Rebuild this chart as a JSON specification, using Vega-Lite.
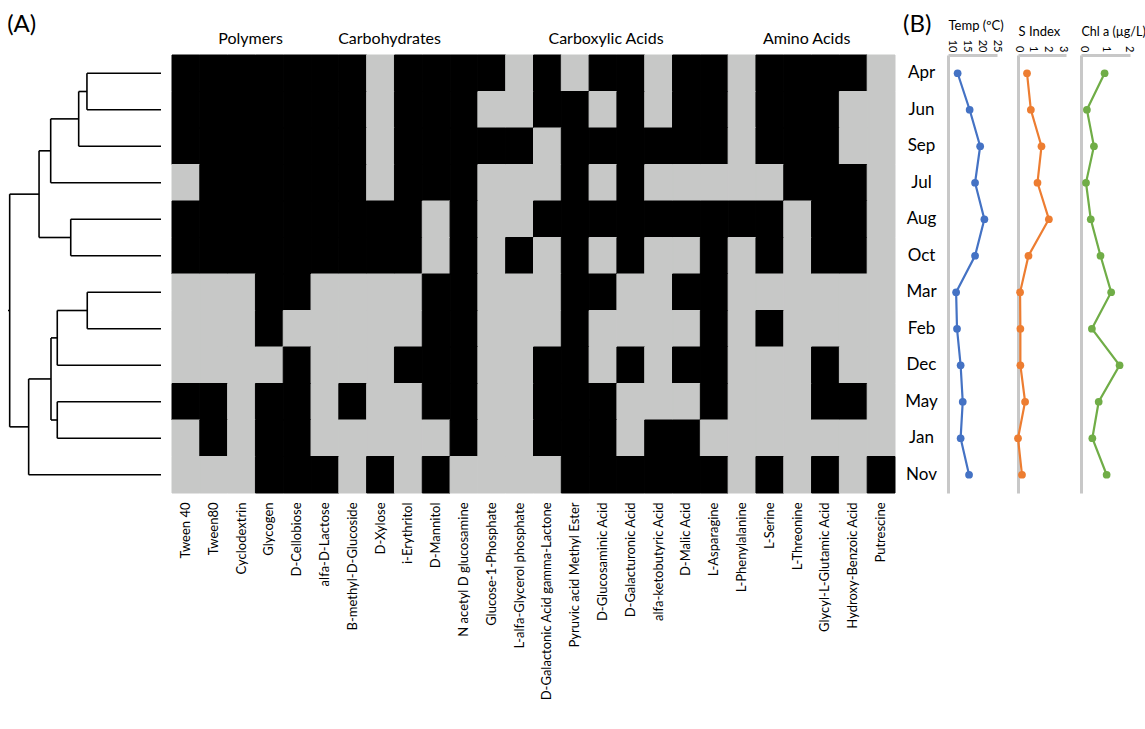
{
"$schema": "https://vega.github.io/schema/vega-lite/v6.json",
"padding": {"left": 7, "top": 13, "right": 0, "bottom": 0},
"config": {"font": "Lato", "view": {"stroke": null}, "axis": {"labelFont": "Lato", "titleFont": "Lato", "labelColor": "#000", "titleColor": "#000"}, "title": {"font": "Lato", "color": "#000"}},
"datasets": {
"env": [
{"month":"Apr","temp":12.2,"s":0.61,"chl":0.95},
{"month":"Jun","temp":16.2,"s":0.87,"chl":0.17},
{"month":"Sep","temp":19.7,"s":1.59,"chl":0.48},
{"month":"Jul","temp":18.0,"s":1.32,"chl":0.13},
{"month":"Aug","temp":21.1,"s":2.09,"chl":0.34},
{"month":"Oct","temp":18.0,"s":0.71,"chl":0.77},
{"month":"Mar","temp":11.7,"s":0.14,"chl":1.24},
{"month":"Feb","temp":12.0,"s":0.16,"chl":0.39},
{"month":"Dec","temp":13.2,"s":0.16,"chl":1.61},
{"month":"May","temp":13.9,"s":0.48,"chl":0.69},
{"month":"Jan","temp":13.2,"s":0.0,"chl":0.41},
{"month":"Nov","temp":16.0,"s":0.27,"chl":1.04}
],
"heat": [
{"month":"Apr","Tween 40":1,"Tween80":1,"Cyclodextrin":1,"Glycogen":1,"D-Cellobiose":1,"alfa-D-Lactose":1,"B-methyl-D-Glucoside":1,"D-Xylose":0,"i-Erythritol":1,"D-Mannitol":1,"N acetyl D glucosamine":1,"Glucose-1-Phosphate":1,"L-alfa-Glycerol phosphate":0,"D-Galactonic Acid gamma-Lactone":1,"Pyruvic acid Methyl Ester":0,"D-Glucosaminic Acid":1,"D-Galacturonic Acid":1,"alfa-ketobutyric Acid":0,"D-Malic Acid":1,"L-Asparagine":1,"L-Phenylalanine":0,"L-Serine":1,"L-Threonine":1,"Glycyl-L-Glutamic Acid":1,"Hydroxy-Benzoic Acid":1,"Putrescine":0},
{"month":"Jun","Tween 40":1,"Tween80":1,"Cyclodextrin":1,"Glycogen":1,"D-Cellobiose":1,"alfa-D-Lactose":1,"B-methyl-D-Glucoside":1,"D-Xylose":0,"i-Erythritol":1,"D-Mannitol":1,"N acetyl D glucosamine":1,"Glucose-1-Phosphate":0,"L-alfa-Glycerol phosphate":0,"D-Galactonic Acid gamma-Lactone":1,"Pyruvic acid Methyl Ester":1,"D-Glucosaminic Acid":0,"D-Galacturonic Acid":1,"alfa-ketobutyric Acid":0,"D-Malic Acid":1,"L-Asparagine":1,"L-Phenylalanine":0,"L-Serine":1,"L-Threonine":1,"Glycyl-L-Glutamic Acid":1,"Hydroxy-Benzoic Acid":0,"Putrescine":0},
{"month":"Sep","Tween 40":1,"Tween80":1,"Cyclodextrin":1,"Glycogen":1,"D-Cellobiose":1,"alfa-D-Lactose":1,"B-methyl-D-Glucoside":1,"D-Xylose":0,"i-Erythritol":1,"D-Mannitol":1,"N acetyl D glucosamine":1,"Glucose-1-Phosphate":1,"L-alfa-Glycerol phosphate":1,"D-Galactonic Acid gamma-Lactone":0,"Pyruvic acid Methyl Ester":1,"D-Glucosaminic Acid":1,"D-Galacturonic Acid":1,"alfa-ketobutyric Acid":1,"D-Malic Acid":1,"L-Asparagine":1,"L-Phenylalanine":0,"L-Serine":1,"L-Threonine":1,"Glycyl-L-Glutamic Acid":1,"Hydroxy-Benzoic Acid":0,"Putrescine":0},
{"month":"Jul","Tween 40":0,"Tween80":1,"Cyclodextrin":1,"Glycogen":1,"D-Cellobiose":1,"alfa-D-Lactose":1,"B-methyl-D-Glucoside":1,"D-Xylose":0,"i-Erythritol":1,"D-Mannitol":1,"N acetyl D glucosamine":1,"Glucose-1-Phosphate":0,"L-alfa-Glycerol phosphate":0,"D-Galactonic Acid gamma-Lactone":0,"Pyruvic acid Methyl Ester":1,"D-Glucosaminic Acid":0,"D-Galacturonic Acid":1,"alfa-ketobutyric Acid":0,"D-Malic Acid":0,"L-Asparagine":0,"L-Phenylalanine":0,"L-Serine":0,"L-Threonine":1,"Glycyl-L-Glutamic Acid":1,"Hydroxy-Benzoic Acid":1,"Putrescine":0},
{"month":"Aug","Tween 40":1,"Tween80":1,"Cyclodextrin":1,"Glycogen":1,"D-Cellobiose":1,"alfa-D-Lactose":1,"B-methyl-D-Glucoside":1,"D-Xylose":1,"i-Erythritol":1,"D-Mannitol":0,"N acetyl D glucosamine":1,"Glucose-1-Phosphate":0,"L-alfa-Glycerol phosphate":0,"D-Galactonic Acid gamma-Lactone":1,"Pyruvic acid Methyl Ester":1,"D-Glucosaminic Acid":1,"D-Galacturonic Acid":1,"alfa-ketobutyric Acid":1,"D-Malic Acid":1,"L-Asparagine":1,"L-Phenylalanine":1,"L-Serine":1,"L-Threonine":0,"Glycyl-L-Glutamic Acid":1,"Hydroxy-Benzoic Acid":1,"Putrescine":0},
{"month":"Oct","Tween 40":1,"Tween80":1,"Cyclodextrin":1,"Glycogen":1,"D-Cellobiose":1,"alfa-D-Lactose":1,"B-methyl-D-Glucoside":1,"D-Xylose":1,"i-Erythritol":1,"D-Mannitol":0,"N acetyl D glucosamine":1,"Glucose-1-Phosphate":0,"L-alfa-Glycerol phosphate":1,"D-Galactonic Acid gamma-Lactone":0,"Pyruvic acid Methyl Ester":1,"D-Glucosaminic Acid":0,"D-Galacturonic Acid":1,"alfa-ketobutyric Acid":0,"D-Malic Acid":0,"L-Asparagine":1,"L-Phenylalanine":0,"L-Serine":1,"L-Threonine":0,"Glycyl-L-Glutamic Acid":1,"Hydroxy-Benzoic Acid":1,"Putrescine":0},
{"month":"Mar","Tween 40":0,"Tween80":0,"Cyclodextrin":0,"Glycogen":1,"D-Cellobiose":1,"alfa-D-Lactose":0,"B-methyl-D-Glucoside":0,"D-Xylose":0,"i-Erythritol":0,"D-Mannitol":1,"N acetyl D glucosamine":1,"Glucose-1-Phosphate":0,"L-alfa-Glycerol phosphate":0,"D-Galactonic Acid gamma-Lactone":0,"Pyruvic acid Methyl Ester":1,"D-Glucosaminic Acid":1,"D-Galacturonic Acid":0,"alfa-ketobutyric Acid":0,"D-Malic Acid":1,"L-Asparagine":1,"L-Phenylalanine":0,"L-Serine":0,"L-Threonine":0,"Glycyl-L-Glutamic Acid":0,"Hydroxy-Benzoic Acid":0,"Putrescine":0},
{"month":"Feb","Tween 40":0,"Tween80":0,"Cyclodextrin":0,"Glycogen":1,"D-Cellobiose":0,"alfa-D-Lactose":0,"B-methyl-D-Glucoside":0,"D-Xylose":0,"i-Erythritol":0,"D-Mannitol":1,"N acetyl D glucosamine":1,"Glucose-1-Phosphate":0,"L-alfa-Glycerol phosphate":0,"D-Galactonic Acid gamma-Lactone":0,"Pyruvic acid Methyl Ester":1,"D-Glucosaminic Acid":0,"D-Galacturonic Acid":0,"alfa-ketobutyric Acid":0,"D-Malic Acid":0,"L-Asparagine":1,"L-Phenylalanine":0,"L-Serine":1,"L-Threonine":0,"Glycyl-L-Glutamic Acid":0,"Hydroxy-Benzoic Acid":0,"Putrescine":0},
{"month":"Dec","Tween 40":0,"Tween80":0,"Cyclodextrin":0,"Glycogen":0,"D-Cellobiose":1,"alfa-D-Lactose":0,"B-methyl-D-Glucoside":0,"D-Xylose":0,"i-Erythritol":1,"D-Mannitol":1,"N acetyl D glucosamine":1,"Glucose-1-Phosphate":0,"L-alfa-Glycerol phosphate":0,"D-Galactonic Acid gamma-Lactone":1,"Pyruvic acid Methyl Ester":1,"D-Glucosaminic Acid":0,"D-Galacturonic Acid":1,"alfa-ketobutyric Acid":0,"D-Malic Acid":1,"L-Asparagine":1,"L-Phenylalanine":0,"L-Serine":0,"L-Threonine":0,"Glycyl-L-Glutamic Acid":1,"Hydroxy-Benzoic Acid":0,"Putrescine":0},
{"month":"May","Tween 40":1,"Tween80":1,"Cyclodextrin":0,"Glycogen":1,"D-Cellobiose":1,"alfa-D-Lactose":0,"B-methyl-D-Glucoside":1,"D-Xylose":0,"i-Erythritol":0,"D-Mannitol":1,"N acetyl D glucosamine":1,"Glucose-1-Phosphate":0,"L-alfa-Glycerol phosphate":0,"D-Galactonic Acid gamma-Lactone":1,"Pyruvic acid Methyl Ester":1,"D-Glucosaminic Acid":1,"D-Galacturonic Acid":0,"alfa-ketobutyric Acid":0,"D-Malic Acid":0,"L-Asparagine":1,"L-Phenylalanine":0,"L-Serine":0,"L-Threonine":0,"Glycyl-L-Glutamic Acid":1,"Hydroxy-Benzoic Acid":1,"Putrescine":0},
{"month":"Jan","Tween 40":0,"Tween80":1,"Cyclodextrin":0,"Glycogen":1,"D-Cellobiose":1,"alfa-D-Lactose":0,"B-methyl-D-Glucoside":0,"D-Xylose":0,"i-Erythritol":0,"D-Mannitol":0,"N acetyl D glucosamine":1,"Glucose-1-Phosphate":0,"L-alfa-Glycerol phosphate":0,"D-Galactonic Acid gamma-Lactone":1,"Pyruvic acid Methyl Ester":1,"D-Glucosaminic Acid":1,"D-Galacturonic Acid":0,"alfa-ketobutyric Acid":1,"D-Malic Acid":1,"L-Asparagine":0,"L-Phenylalanine":0,"L-Serine":0,"L-Threonine":0,"Glycyl-L-Glutamic Acid":0,"Hydroxy-Benzoic Acid":0,"Putrescine":0},
{"month":"Nov","Tween 40":0,"Tween80":0,"Cyclodextrin":0,"Glycogen":1,"D-Cellobiose":1,"alfa-D-Lactose":1,"B-methyl-D-Glucoside":0,"D-Xylose":1,"i-Erythritol":0,"D-Mannitol":1,"N acetyl D glucosamine":0,"Glucose-1-Phosphate":0,"L-alfa-Glycerol phosphate":0,"D-Galactonic Acid gamma-Lactone":0,"Pyruvic acid Methyl Ester":1,"D-Glucosaminic Acid":1,"D-Galacturonic Acid":1,"alfa-ketobutyric Acid":1,"D-Malic Acid":1,"L-Asparagine":1,"L-Phenylalanine":0,"L-Serine":1,"L-Threonine":0,"Glycyl-L-Glutamic Acid":1,"Hydroxy-Benzoic Acid":0,"Putrescine":1}
],
"tree": [
{"h1":0,"h2":0.484,"p1":0,"p2":0},
{"h1":0,"h2":0.484,"p1":1,"p2":1},
{"h1":0.484,"h2":0.484,"p1":0,"p2":1},
{"h1":0.484,"h2":0.538,"p1":0.5,"p2":0.5},
{"h1":0,"h2":0.538,"p1":2,"p2":2},
{"h1":0.538,"h2":0.538,"p1":0.5,"p2":2},
{"h1":0.538,"h2":0.721,"p1":1.25,"p2":1.25},
{"h1":0,"h2":0.721,"p1":3,"p2":3},
{"h1":0.721,"h2":0.721,"p1":1.25,"p2":3},
{"h1":0.721,"h2":0.797,"p1":2.125,"p2":2.125},
{"h1":0,"h2":0.59,"p1":4,"p2":4},
{"h1":0,"h2":0.59,"p1":5,"p2":5},
{"h1":0.59,"h2":0.59,"p1":4,"p2":5},
{"h1":0.59,"h2":0.797,"p1":4.5,"p2":4.5},
{"h1":0.797,"h2":0.797,"p1":2.125,"p2":4.5},
{"h1":0.797,"h2":0.989,"p1":3.3125,"p2":3.3125},
{"h1":0,"h2":0.482,"p1":6,"p2":6},
{"h1":0,"h2":0.482,"p1":7,"p2":7},
{"h1":0.482,"h2":0.482,"p1":6,"p2":7},
{"h1":0.482,"h2":0.678,"p1":6.5,"p2":6.5},
{"h1":0,"h2":0.678,"p1":8,"p2":8},
{"h1":0.678,"h2":0.678,"p1":6.5,"p2":8},
{"h1":0.678,"h2":0.719,"p1":7.25,"p2":7.25},
{"h1":0,"h2":0.678,"p1":9,"p2":9},
{"h1":0,"h2":0.678,"p1":10,"p2":10},
{"h1":0.678,"h2":0.678,"p1":9,"p2":10},
{"h1":0.678,"h2":0.719,"p1":9.5,"p2":9.5},
{"h1":0.719,"h2":0.719,"p1":7.25,"p2":9.5},
{"h1":0.719,"h2":0.865,"p1":8.375,"p2":8.375},
{"h1":0,"h2":0.865,"p1":11,"p2":11},
{"h1":0.865,"h2":0.865,"p1":8.375,"p2":11},
{"h1":0.865,"h2":0.989,"p1":9.6875,"p2":9.6875},
{"h1":0.989,"h2":0.989,"p1":3.3125,"p2":9.6875},
{"h1":0.989,"h2":1.0,"p1":6.5,"p2":6.5}
]
},
"bounds": "flush",
"spacing": 0,
"hconcat": [
{
"width": 164, "height": 438,
"title": {"text": "(A)", "anchor": "start", "fontSize": 24, "fontWeight": "normal", "baseline": "alphabetic", "offset": -1},
"data": {"name": "tree"},
"mark": {"type": "rule", "color": "#000", "strokeWidth": 1.6},
"encoding": {
"x": {"field": "h1", "type": "quantitative", "scale": {"domain": [-0.0719, 1], "reverse": true, "nice": false, "zero": false}, "axis": null},
"x2": {"field": "h2"},
"y": {"field": "p1", "type": "quantitative", "scale": {"domain": [-0.5, 11.5], "reverse": true, "nice": false, "zero": false}, "axis": null},
"y2": {"field": "p2"}
}
},
{
"width": 723, "height": 438,
"data": {"name": "heat"},
"transform": [{"fold": ["Tween 40","Tween80","Cyclodextrin","Glycogen","D-Cellobiose","alfa-D-Lactose","B-methyl-D-Glucoside","D-Xylose","i-Erythritol","D-Mannitol","N acetyl D glucosamine","Glucose-1-Phosphate","L-alfa-Glycerol phosphate","D-Galactonic Acid gamma-Lactone","Pyruvic acid Methyl Ester","D-Glucosaminic Acid","D-Galacturonic Acid","alfa-ketobutyric Acid","D-Malic Acid","L-Asparagine","L-Phenylalanine","L-Serine","L-Threonine","Glycyl-L-Glutamic Acid","Hydroxy-Benzoic Acid","Putrescine"], "as": ["substrate", "v"]}],
"layer": [
{
"mark": {"type": "rect", "strokeWidth": 1},
"encoding": {
"x": {"field": "substrate", "type": "nominal", "sort": ["Tween 40","Tween80","Cyclodextrin","Glycogen","D-Cellobiose","alfa-D-Lactose","B-methyl-D-Glucoside","D-Xylose","i-Erythritol","D-Mannitol","N acetyl D glucosamine","Glucose-1-Phosphate","L-alfa-Glycerol phosphate","D-Galactonic Acid gamma-Lactone","Pyruvic acid Methyl Ester","D-Glucosaminic Acid","D-Galacturonic Acid","alfa-ketobutyric Acid","D-Malic Acid","L-Asparagine","L-Phenylalanine","L-Serine","L-Threonine","Glycyl-L-Glutamic Acid","Hydroxy-Benzoic Acid","Putrescine"],
"axis": {"orient": "bottom", "title": null, "labelAngle": 270, "labelAlign": "right", "labelBaseline": "middle", "labelFontSize": 13, "labelPadding": 9, "ticks": false, "tickSize": 0, "domain": false, "labelLimit": 400}},
"y": {"field": "month", "type": "nominal", "sort": ["Apr","Jun","Sep","Jul","Aug","Oct","Mar","Feb","Dec","May","Jan","Nov"], "axis": null},
"color": {"field": "v", "type": "nominal", "scale": {"domain": [0, 1], "range": ["#c7c8c7", "#000000"]}, "legend": null},
"stroke": {"field": "v", "type": "nominal", "scale": {"domain": [0, 1], "range": ["#c7c8c7", "#000000"]}, "legend": null}
}
},
{
"mark": {"type": "rect", "opacity": 0},
"encoding": {
"x": {"field": "substrate", "type": "nominal", "sort": ["Tween 40","Tween80","Cyclodextrin","Glycogen","D-Cellobiose","alfa-D-Lactose","B-methyl-D-Glucoside","D-Xylose","i-Erythritol","D-Mannitol","N acetyl D glucosamine","Glucose-1-Phosphate","L-alfa-Glycerol phosphate","D-Galactonic Acid gamma-Lactone","Pyruvic acid Methyl Ester","D-Glucosaminic Acid","D-Galacturonic Acid","alfa-ketobutyric Acid","D-Malic Acid","L-Asparagine","L-Phenylalanine","L-Serine","L-Threonine","Glycyl-L-Glutamic Acid","Hydroxy-Benzoic Acid","Putrescine"],
"axis": {"orient": "top", "title": null, "values": ["Cyclodextrin", "D-Xylose", "D-Glucosaminic Acid", "L-Threonine"],
"labelExpr": "datum.value == 'Cyclodextrin' ? 'Polymers' : datum.value == 'D-Xylose' ? 'Carbohydrates' : datum.value == 'D-Glucosaminic Acid' ? 'Carboxylic Acids' : 'Amino Acids'",
"labelOffset": {"condition": {"test": "datum.value == 'D-Glucosaminic Acid'", "value": 3}, "value": 9},
"labelAngle": 0, "labelAlign": "center", "labelBaseline": "alphabetic", "labelFontSize": 16, "labelPadding": 12, "ticks": false, "tickSize": 0, "domain": false, "labelLimit": 400}},
"y": {"field": "month", "type": "nominal", "sort": ["Apr","Jun","Sep","Jul","Aug","Oct","Mar","Feb","Dec","May","Jan","Nov"], "axis": null}
}
}
],
"resolve": {"axis": {"x": "independent"}}
},
{
"width": 53, "height": 438,
"title": {"text": "(B)", "anchor": "start", "dx": 8, "fontSize": 24, "fontWeight": "normal", "baseline": "alphabetic", "offset": -1},
"data": {"name": "env"},
"mark": {"type": "text", "fontSize": 17, "color": "#000"},
"encoding": {
"y": {"field": "month", "type": "nominal", "sort": ["Apr","Jun","Sep","Jul","Aug","Oct","Mar","Feb","Dec","May","Jan","Nov"], "axis": null},
"text": {"field": "month"}
}
},
{
"width": 49, "height": 438,
"data": {"name": "env"},
"mark": {"type": "line", "color": "#4472C4", "strokeWidth": 2.2, "point": {"filled": true, "size": 60, "color": "#4472C4"}},
"encoding": {
"x": {"field": "temp", "type": "quantitative", "scale": {"domain": [9, 25.3], "nice": false, "zero": false},
"axis": {"orient": "top", "title": "Temp (ºC)", "values": [10, 15, 20, 25], "labelAngle": 90, "labelAlign": "right", "labelBaseline": "middle", "labelFontSize": 11, "labelPadding": 3, "ticks": false, "tickSize": 0, "grid": false, "domainColor": "#c8c8c8", "domainWidth": 3, "titleFontSize": 13, "titleFontWeight": "normal", "titleAnchor": "start", "titlePadding": 7, "labelFlush": false, "labelOverlap": false}},
"y": {"field": "month", "type": "nominal", "sort": ["Apr","Jun","Sep","Jul","Aug","Oct","Mar","Feb","Dec","May","Jan","Nov"], "axis": {"title": null, "labels": false, "ticks": false, "grid": false, "domainColor": "#c8c8c8", "domainWidth": 3}}
}
},
{
"width": 21, "height": 438,
"data": {"values": [{}]},
"mark": {"type": "point", "opacity": 0}
},
{
"width": 48, "height": 438,
"data": {"name": "env"},
"mark": {"type": "line", "color": "#ED7D31", "strokeWidth": 2.2, "point": {"filled": true, "size": 60, "color": "#ED7D31"}},
"encoding": {
"x": {"field": "s", "type": "quantitative", "scale": {"domain": [0, 3.25], "nice": false, "zero": false},
"axis": {"orient": "top", "title": "S Index", "values": [0, 1, 2, 3], "labelAngle": 90, "labelAlign": "right", "labelBaseline": "middle", "labelFontSize": 11, "labelPadding": 3, "ticks": false, "tickSize": 0, "grid": false, "domainColor": "#c8c8c8", "domainWidth": 3, "titleFontSize": 13, "titleFontWeight": "normal", "titleAnchor": "start", "titlePadding": 7, "labelFlush": false, "labelOverlap": false}},
"y": {"field": "month", "type": "nominal", "sort": ["Apr","Jun","Sep","Jul","Aug","Oct","Mar","Feb","Dec","May","Jan","Nov"], "axis": {"title": null, "labels": false, "ticks": false, "grid": false, "domainColor": "#c8c8c8", "domainWidth": 3}}
}
},
{
"width": 15, "height": 438,
"data": {"values": [{}]},
"mark": {"type": "point", "opacity": 0}
},
{
"width": 49, "height": 438,
"data": {"name": "env"},
"mark": {"type": "line", "color": "#70AD47", "strokeWidth": 2.2, "point": {"filled": true, "size": 60, "color": "#70AD47"}},
"encoding": {
"x": {"field": "chl", "type": "quantitative", "scale": {"domain": [-0.09, 2.07], "nice": false, "zero": false},
"axis": {"orient": "top", "title": "Chl a (µg/L)", "values": [0, 1, 2], "labelAngle": 90, "labelAlign": "right", "labelBaseline": "middle", "labelFontSize": 11, "labelPadding": 3, "ticks": false, "tickSize": 0, "grid": false, "domainColor": "#c8c8c8", "domainWidth": 3, "titleFontSize": 12.5, "titleFontWeight": "normal", "titleAnchor": "start", "titlePadding": 7, "labelFlush": false, "labelOverlap": false}},
"y": {"field": "month", "type": "nominal", "sort": ["Apr","Jun","Sep","Jul","Aug","Oct","Mar","Feb","Dec","May","Jan","Nov"], "axis": {"title": null, "labels": false, "ticks": false, "grid": false, "domainColor": "#c8c8c8", "domainWidth": 3}}
}
}
]
}
